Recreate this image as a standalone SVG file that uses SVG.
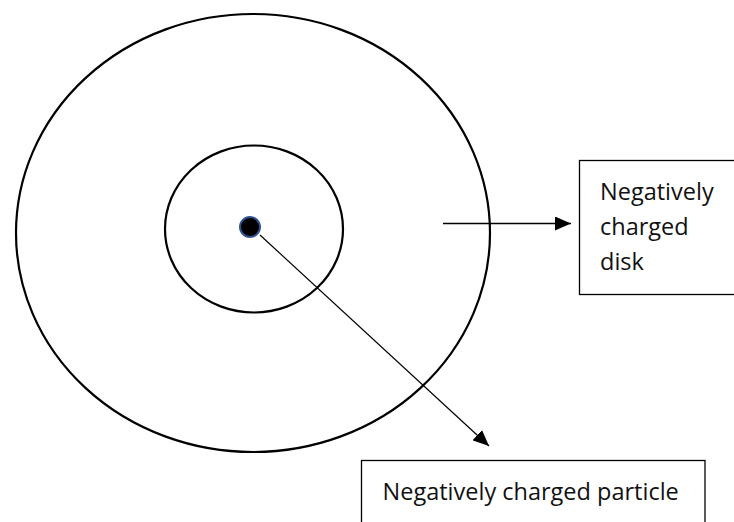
<svg xmlns="http://www.w3.org/2000/svg" width="734" height="522" viewBox="0 0 734 522">
  <style>
    .ring { fill: none; stroke: #000; stroke-width: 2.2; }
    .box { fill: #fff; stroke: #000; stroke-width: 1.3; }
    .lbl { font-family: "Open Sans", "Liberation Sans", sans-serif; font-size: 23.5px; fill: #111; }
    .conn { stroke: #000; fill: none; }
  </style>
  <defs>
    <marker id="arrow" viewBox="0 0 16 14" refX="16" refY="7" markerWidth="16" markerHeight="14" markerUnits="userSpaceOnUse" orient="auto">
      <path d="M0,0 L16,7 L0,14 Z" fill="#000"/>
    </marker>
  </defs>
  <rect width="734" height="522" fill="#fff"/>
  <g id="outer-disk">
    <ellipse class="ring" cx="253" cy="233" rx="237" ry="219"/>
  </g>
  <g id="inner-circle">
    <ellipse class="ring" cx="254" cy="229" rx="89" ry="83.5"/>
  </g>
  <g id="particle">
    <circle cx="250" cy="227" r="10" fill="#000" stroke="#2F528F" stroke-width="2"/>
  </g>
  <g id="connectors">
    <line class="conn" x1="443" y1="223.5" x2="571" y2="223.5" stroke-width="1.5" marker-end="url(#arrow)"/>
    <line class="conn" x1="260" y1="235" x2="489" y2="446" stroke-width="1.2" marker-end="url(#arrow)"/>
  </g>
  <g id="disk-label">
    <rect class="box" x="579.5" y="160.5" width="170" height="134"/>
    <text class="lbl" x="600" y="200">Negatively</text>
    <text class="lbl" x="600" y="235">charged</text>
    <text class="lbl" x="600" y="270">disk</text>
  </g>
  <g id="particle-label">
    <rect class="box" x="361.5" y="460.5" width="343.5" height="80"/>
    <text class="lbl" x="382.5" y="499.5">Negatively charged particle</text>
  </g>
</svg>
